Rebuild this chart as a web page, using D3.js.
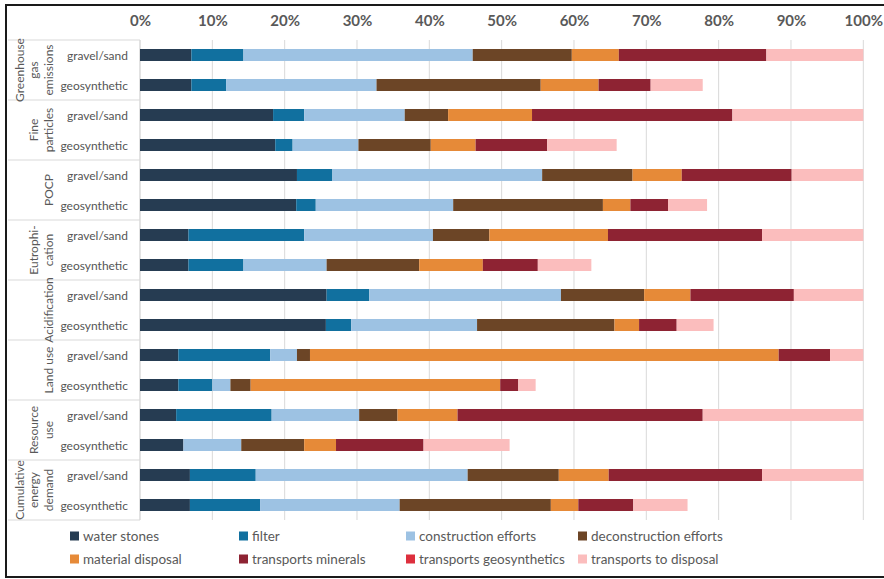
<!DOCTYPE html>
<html>
<head>
<meta charset="utf-8">
<script src="https://cdn.jsdelivr.net/npm/d3@7/dist/d3.min.js"></script>
<style>
  html, body { margin: 0; padding: 0; background: #fff; }
  svg text { font-family: Lato, "Open Sans", sans-serif; fill: #595959; }
</style>
</head>
<body>
<svg id="chart" width="884" height="579"></svg>
<script>
// Impact categories (group labels, one line per array entry)
const groups = [
  ["Greenhouse", "gas", "emissions"],
  ["Fine", "particles"],
  ["POCP"],
  ["Eutrophi-", "cation"],
  ["Acidification"],
  ["Land use"],
  ["Resource", "use"],
  ["Cumulative", "energy", "demand"]
];
// Variants compared within each category
const variants = ["gravel/sand", "geosynthetic"];

// Contribution series, percent of the gravel/sand total; order: each group gravel/sand then geosynthetic
const seriesNames = [
  "water stones", "filter", "construction efforts", "deconstruction efforts",
  "material disposal", "transports minerals", "transports geosynthetics", "transports to disposal"
];
const seriesColors = ["#263c52", "#11709f", "#9dc2e3", "#6c4526", "#e68a38", "#8e2333", "#dd2f3d", "#fbbdbd"];

const waterStones          = [7.1, 7.1, 18.4, 18.7, 21.7, 21.6, 6.7, 6.7, 25.8, 25.7, 5.3, 5.3, 5.0, 6.0, 6.9, 6.9];
const filter               = [7.2, 4.8, 4.3, 2.4, 4.9, 2.7, 16.0, 7.6, 5.9, 3.5, 12.7, 4.7, 13.2, 0.0, 9.1, 9.7];
const constructionEfforts  = [31.7, 20.8, 13.9, 9.1, 29.0, 19.0, 17.8, 11.5, 26.5, 17.4, 3.7, 2.5, 12.1, 8.0, 29.3, 19.3];
const deconstruction       = [13.7, 22.7, 6.0, 10.0, 12.5, 20.7, 7.8, 12.8, 11.5, 19.0, 1.8, 2.8, 5.3, 8.7, 12.6, 20.9];
const materialDisposal     = [6.5, 8.0, 11.6, 6.2, 6.8, 3.8, 16.4, 8.8, 6.4, 3.4, 64.8, 34.5, 8.3, 4.4, 6.9, 3.8];
const transportsMinerals   = [20.4, 7.2, 27.7, 9.9, 15.2, 5.2, 21.3, 7.6, 14.3, 5.2, 7.1, 2.5, 33.9, 12.1, 21.2, 7.6];
const transportsGeosynth   = [0, 0, 0, 0, 0, 0, 0, 0, 0, 0, 0, 0, 0, 0, 0, 0];
const transportsDisposal   = [13.4, 7.2, 18.1, 9.6, 9.9, 5.4, 14.0, 7.4, 9.6, 5.1, 4.6, 2.4, 22.2, 11.9, 14.0, 7.5];

const xTicks = [0, 10, 20, 30, 40, 50, 60, 70, 80, 90, 100];

const seriesValues = [waterStones, filter, constructionEfforts, deconstruction,
  materialDisposal, transportsMinerals, transportsGeosynth, transportsDisposal];

// Build one record per bar for d3.stack
const rows = [];
groups.forEach((g, gi) => variants.forEach((v, vi) => {
  const idx = gi * variants.length + vi;
  const rec = { id: idx, group: gi, variant: v };
  seriesNames.forEach((s, si) => { rec[s] = seriesValues[si][idx]; });
  rows.push(rec);
}));

const svg = d3.select("#chart");
const plot = { left: 140, right: 863.3, top: 40, bottom: 520 };
const labelLeft = 8;

const x = d3.scaleLinear().domain([0, 100]).range([plot.left, plot.right]);
const y = d3.scaleBand().domain(rows.map(d => d.id)).range([plot.top, plot.bottom])
  .paddingInner(0.6).paddingOuter(0.3);
const color = d3.scaleOrdinal().domain(seriesNames).range(seriesColors);

// Outer frame
svg.append("rect").attr("x", 6).attr("y", 5).attr("width", 890).attr("height", 572)
  .attr("fill", "none").attr("stroke", "#1a1a1a").attr("stroke-width", 2);

// Vertical gridlines
svg.append("g").selectAll("line").data(xTicks).join("line")
  .attr("x1", d => x(d)).attr("x2", d => x(d))
  .attr("y1", plot.top).attr("y2", plot.bottom)
  .attr("stroke", "#d9d9d9").attr("stroke-width", 1);

// Top axis labels
const xAxis = d3.axisTop(x).tickValues(xTicks).tickFormat(d => d + "%").tickSize(0).tickPadding(0);
const axG = svg.append("g").attr("transform", `translate(0,26)`).call(xAxis);
axG.select(".domain").remove();
axG.selectAll("text").style("font-family", "Lato, sans-serif").style("font-size", "15px")
  .style("font-weight", "bold").attr("fill", "#5f6670");

// Category label panel lines
const groupH = (plot.bottom - plot.top) / groups.length;
const panel = svg.append("g").attr("stroke", "#d9d9d9").attr("stroke-width", 1);
d3.range(groups.length + 1).forEach(i => {
  const yy = plot.top + i * groupH;
  panel.append("line").attr("x1", labelLeft).attr("x2", plot.left).attr("y1", yy).attr("y2", yy);
});
panel.append("line").attr("x1", plot.left).attr("x2", plot.left).attr("y1", plot.top).attr("y2", plot.bottom);

// Group labels, rotated
const lineGap = 14.5;
groups.forEach((lines, gi) => {
  const cy = plot.top + (gi + 0.5) * groupH;
  lines.forEach((t, li) => {
    const cx = 48 - lineGap * (lines.length - 1 - li);
    svg.append("text")
      .attr("transform", `translate(${cx},${cy}) rotate(-90)`)
      .attr("text-anchor", "middle").attr("dominant-baseline", "central")
      .style("font-size", "12px").text(t);
  });
});

// Variant labels
svg.append("g").selectAll("text").data(rows).join("text")
  .attr("x", 128).attr("y", d => y(d.id) + y.bandwidth() / 2)
  .attr("text-anchor", "end").attr("dominant-baseline", "central")
  .style("font-size", "12px").style("fill", "#555")
  .text(d => d.variant);

// Stacked bars
const stacked = d3.stack().keys(seriesNames)(rows);
svg.append("g").selectAll("g").data(stacked).join("g")
  .attr("fill", s => color(s.key))
  .selectAll("rect").data(s => s).join("rect")
  .attr("x", d => x(d[0]))
  .attr("width", d => Math.max(0, x(d[1]) - x(d[0])))
  .attr("y", d => y(d.data.id))
  .attr("height", y.bandwidth());

// Legend
const legendCols = [70, 239, 406, 578];
const legendRows = [536, 559];
const leg = svg.append("g").selectAll("g").data(seriesNames).join("g")
  .attr("transform", (d, i) => `translate(${legendCols[i % 4]},${legendRows[Math.floor(i / 4)]})`);
leg.append("rect").attr("x", 0).attr("y", -4.5).attr("width", 9).attr("height", 9)
  .attr("fill", d => color(d));
leg.append("text").attr("x", 13).attr("y", 0).attr("dominant-baseline", "central")
  .style("font-size", "13.5px").text(d => d);
</script>
</body>
</html>
